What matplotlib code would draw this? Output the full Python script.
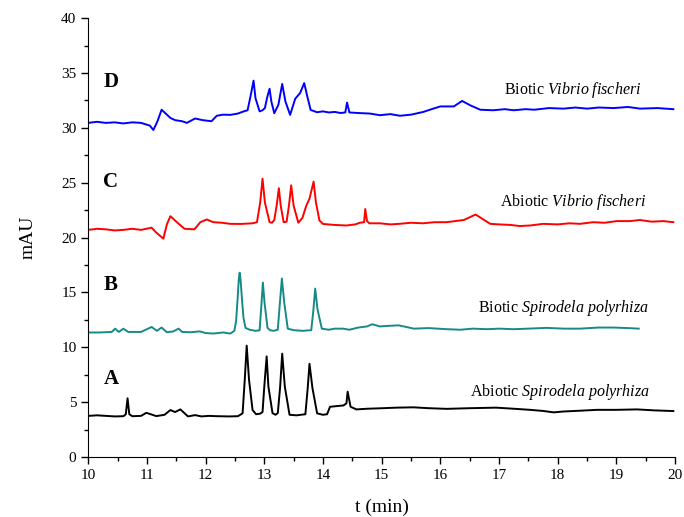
import matplotlib.pyplot as plt

plt.rcParams['font.family'] = 'Liberation Serif'
plt.rcParams['mathtext.fontset'] = 'custom'
plt.rcParams['mathtext.it'] = 'Liberation Serif:italic'
plt.rcParams['mathtext.rm'] = 'Liberation Serif'

# trace D - biotic Vibrio fischeri
t_d = [10.0, 10.15, 10.3, 10.45, 10.6, 10.75, 10.9, 11.05, 11.11, 11.18, 11.25, 11.32, 11.4,
       11.48, 11.6, 11.68, 11.82, 11.95, 12.1, 12.19, 12.3, 12.42, 12.55, 12.65, 12.715, 12.77,
       12.817, 12.85, 12.92, 12.97, 13.01, 13.05, 13.09, 13.12, 13.17, 13.24, 13.305, 13.36,
       13.44, 13.527, 13.61, 13.68, 13.74, 13.79, 13.9, 14.0, 14.1, 14.2, 14.3, 14.38, 14.41,
       14.45, 14.6, 14.8, 14.97, 15.15, 15.31, 15.5, 15.71, 15.85, 16.0, 16.23, 16.37, 16.51,
       16.68, 16.9, 17.1, 17.25, 17.45, 17.6, 17.85, 18.1, 18.3, 18.5, 18.7, 18.95, 19.2,
       19.4, 19.7, 19.97]
v_d = [30.45, 30.55, 30.45, 30.5, 30.4, 30.5, 30.45, 30.2, 29.8, 30.6, 31.65, 31.3, 30.9,
       30.7, 30.6, 30.45, 30.85, 30.7, 30.6, 31.1, 31.2, 31.18, 31.3, 31.5, 31.6, 33.0,
       34.3, 32.7, 31.5, 31.6, 31.8, 32.8, 33.56, 32.4, 31.33, 32.1, 34.0, 32.4,
       31.18, 32.65, 33.17, 34.08, 32.7, 31.63, 31.42, 31.5, 31.4, 31.45, 31.35, 31.4, 32.3,
       31.4, 31.35, 31.3, 31.15, 31.25, 31.1, 31.2, 31.45, 31.7, 31.95, 31.95, 32.45, 32.05,
       31.65, 31.6, 31.7, 31.6, 31.7, 31.65, 31.8, 31.75, 31.85, 31.75, 31.85, 31.8, 31.9,
       31.75, 31.8, 31.7]

# trace C - abiotic Vibrio fischeri
t_c = [10.0, 10.15, 10.3, 10.45, 10.6, 10.75, 10.9, 11.08, 11.15, 11.28, 11.34, 11.4, 11.51,
       11.64, 11.81, 11.91, 12.02, 12.13, 12.28, 12.42, 12.6, 12.8, 12.875, 12.93, 12.97, 13.01,
       13.09, 13.13, 13.17, 13.21, 13.248, 13.28, 13.33, 13.38, 13.42, 13.458, 13.5, 13.58,
       13.65, 13.713, 13.77, 13.84, 13.88, 13.94, 14.0, 14.2, 14.4, 14.55, 14.63, 14.7, 14.72,
       14.75, 14.79, 14.97, 15.15, 15.3, 15.5, 15.7, 15.9, 16.1, 16.4, 16.6, 16.85, 17.0,
       17.2, 17.35, 17.53, 17.75, 18.0, 18.2, 18.38, 18.6, 18.8, 19.0, 19.23, 19.4, 19.6,
       19.8, 19.97]
v_c = [20.7, 20.8, 20.75, 20.65, 20.7, 20.8, 20.7, 20.9, 20.5, 19.9, 21.2, 21.95, 21.4,
       20.8, 20.75, 21.4, 21.65, 21.4, 21.35, 21.25, 21.24, 21.3, 21.4, 23.2, 25.37, 23.2,
       21.4, 21.35, 21.6, 22.9, 24.5, 22.9, 21.4, 21.45, 22.9, 24.76, 22.9, 21.35,
       21.8, 22.87, 23.54, 25.1, 23.2, 21.55, 21.24, 21.15, 21.1, 21.2, 21.35, 21.4, 22.6,
       21.5, 21.3, 21.3, 21.2, 21.25, 21.35, 21.3, 21.4, 21.4, 21.6, 22.1, 21.25, 21.2,
       21.15, 21.05, 21.1, 21.25, 21.2, 21.3, 21.25, 21.4, 21.35, 21.5, 21.5, 21.6, 21.45,
       21.5, 21.4]

# trace B - biotic Spirodela polyrhiza
t_b = [10.0, 10.2, 10.4, 10.46, 10.52, 10.6, 10.68, 10.9, 11.08, 11.17, 11.25, 11.34, 11.45,
       11.54, 11.6, 11.74, 11.9, 12.0, 12.13, 12.3, 12.42, 12.49, 12.52, 12.545, 12.565, 12.58,
       12.595, 12.62, 12.645, 12.68, 12.75, 12.85, 12.92, 12.95, 12.976, 13.004, 13.055, 13.1,
       13.16, 13.23, 13.265, 13.30, 13.34, 13.40, 13.5, 13.65, 13.8, 13.835, 13.867, 13.907,
       13.98, 14.1, 14.2, 14.34, 14.45, 14.6, 14.75, 14.84, 14.97, 15.1, 15.29, 15.55, 15.8,
       16.11, 16.34, 16.55, 16.8, 17.0, 17.25, 17.5, 17.81, 18.1, 18.38, 18.7, 18.95, 19.2,
       19.38]
v_b = [11.35, 11.35, 11.4, 11.7, 11.4, 11.7, 11.4, 11.4, 11.85, 11.5, 11.8, 11.37, 11.45,
       11.7, 11.4, 11.37, 11.45, 11.3, 11.25, 11.35, 11.25, 11.5, 12.4, 14.4, 16.2, 16.8,
       16.2, 14.37, 12.7, 11.77, 11.6, 11.5, 11.55, 13.8, 15.9, 14.06, 11.77, 11.55,
       11.5, 11.6, 14.0, 16.27, 14.06, 11.7, 11.56, 11.5, 11.56, 13.3, 15.35, 13.45,
       11.7, 11.6, 11.7, 11.7, 11.6, 11.8, 11.9, 12.1, 11.9, 11.95, 12.0, 11.7, 11.75,
       11.65, 11.6, 11.7, 11.65, 11.7, 11.65, 11.7, 11.77, 11.7, 11.7, 11.8, 11.8, 11.75,
       11.7]

# trace A - abiotic Spirodela polyrhiza
t_a = [10.0, 10.15, 10.3, 10.45, 10.6, 10.64, 10.67, 10.7, 10.75, 10.9, 10.99, 11.16, 11.3,
       11.4, 11.48, 11.57, 11.7, 11.82, 11.93, 12.05, 12.2, 12.4, 12.55, 12.63, 12.667, 12.70,
       12.74, 12.80, 12.86, 12.93, 12.97, 13.0, 13.04, 13.07, 13.14, 13.19, 13.23, 13.27,
       13.305, 13.35, 13.43, 13.55, 13.70, 13.74, 13.77, 13.82, 13.90, 14.0, 14.07, 14.12,
       14.25, 14.35, 14.40, 14.42, 14.47, 14.57, 14.75, 14.97, 15.25, 15.54, 15.8, 16.11,
       16.5, 16.95, 17.25, 17.53, 17.75, 17.93, 18.1, 18.3, 18.67, 19.0, 19.35, 19.65, 19.97]
v_a = [3.75, 3.8, 3.75, 3.7, 3.72, 3.9, 5.35, 3.9, 3.72, 3.75, 4.03, 3.73, 3.85,
       4.28, 4.1, 4.34, 3.7, 3.82, 3.7, 3.75, 3.72, 3.7, 3.72, 3.98, 7.03, 10.15,
       7.03, 4.28, 3.9, 3.95, 4.1, 6.42, 9.17, 6.42, 4.0, 3.85, 4.0, 6.4,
       9.42, 6.4, 3.85, 3.8, 3.9, 6.3, 8.5, 6.3, 3.98, 3.85, 3.9, 4.58,
       4.65, 4.7, 4.9, 5.96, 4.58, 4.34, 4.4, 4.44, 4.5, 4.53, 4.45, 4.39,
       4.45, 4.5, 4.4, 4.3, 4.2, 4.07, 4.15, 4.2, 4.3, 4.3, 4.34, 4.25, 4.19]

fig = plt.figure(figsize=(6.84, 5.17), dpi=100)
ax = fig.add_axes([0.129, 0.116, 0.858, 0.849])

ax.plot(t_a, v_a, color='black', lw=1.4)
ax.plot(t_b, v_b, color='#168a88', lw=1.4)
ax.plot(t_c, v_c, color='#ff0000', lw=1.4)
ax.plot(t_d, v_d, color='#0000ff', lw=1.4)

ax.text(10.26, 34.2, 'D', fontsize=15, fontweight='bold', va='center')
ax.text(10.26, 25.1, 'C', fontsize=15, fontweight='bold', va='center')
ax.text(10.26, 15.7, 'B', fontsize=15, fontweight='bold', va='center')
ax.text(10.26, 7.1, 'A', fontsize=15, fontweight='bold', va='center')

ax.text(18.26, 33.47, r'Biotic $\mathit{Vibrio\ fischeri}$', fontsize=11.5, ha='center', va='center')
ax.text(18.26, 23.23, r'Abiotic $\mathit{Vibrio\ fischeri}$', fontsize=11.5, ha='center', va='center')
ax.text(18.1, 13.6, r'Biotic $\mathit{Spirodela\ polyrhiza}$', fontsize=11.5, ha='center', va='center')
ax.text(18.04, 5.9, r'Abiotic $\mathit{Spirodela\ polyrhiza}$', fontsize=11.5, ha='center', va='center')

ax.set_xlim(10, 20)
ax.set_ylim(0, 40)
ax.set_xticks(range(10, 21))
ax.set_yticks(range(0, 41, 5))
ax.set_xticks([x + 0.5 for x in range(10, 20)], minor=True)
ax.set_yticks([y + 2.5 for y in range(0, 40, 5)], minor=True)
ax.tick_params(which='major', direction='out', length=5, width=1, labelsize=11)
ax.tick_params(which='minor', direction='out', length=3, width=1)
ax.spines['top'].set_visible(False)
ax.spines['right'].set_visible(False)

ax.set_xlabel('t (min)', fontsize=14, labelpad=12)
ax.set_ylabel('mAU', fontsize=14, labelpad=18)

plt.savefig('out.png', dpi=100)
